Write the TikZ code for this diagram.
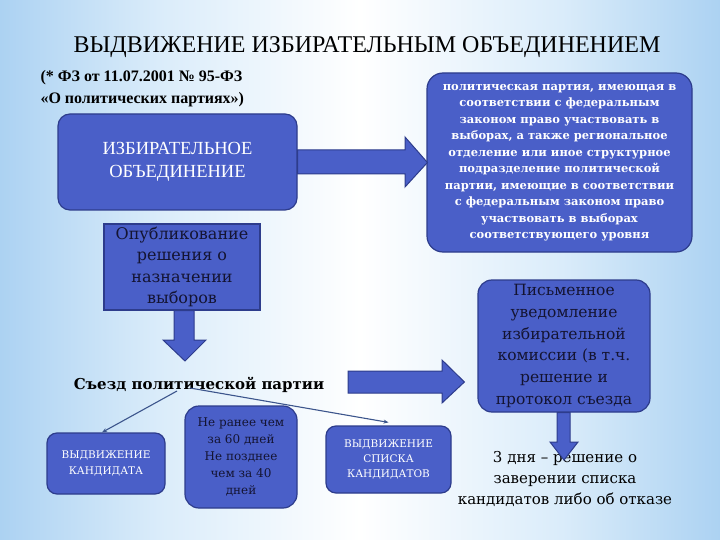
\documentclass[tikz,border=0pt]{standalone}
\usepackage{fontspec}
\setmainfont{Liberation Serif}
\newfontfamily\dserif{DejaVu Serif}
\usetikzlibrary{arrows.meta,calc}
\definecolor{boxblue}{RGB}{74,95,200}
\definecolor{boxline}{RGB}{45,60,140}
\definecolor{bgblue}{RGB}{172,210,242}
\definecolor{bgmid}{RGB}{218,236,250}
\definecolor{darktext}{RGB}{20,20,50}
\definecolor{linkcol}{RGB}{60,85,140}
\pgfdeclarehorizontalshading{bgshade}{100bp}{color(0bp)=(bgblue); color(25bp)=(bgblue); color(36bp)=(bgmid); color(50bp)=(white); color(64bp)=(bgmid); color(75bp)=(bgblue); color(100bp)=(bgblue)}
\begin{document}
\begin{tikzpicture}[x=1pt,y=-1pt,
  box/.style={draw=boxline, line width=1.2pt, fill=boxblue, align=center, inner sep=2pt},
  rbox/.style={box, rounded corners=12pt},
  blockarrow/.style={draw=boxline, line width=1pt, fill=boxblue, line join=miter},
  link/.style={draw=linkcol, line width=1.1pt, -{Stealth[length=5pt,width=4pt]}}]
\shade[shading=bgshade] (0,0) rectangle (720,540);
\useasboundingbox (0,0) rectangle (720,540);

\node[font=\fontsize{24}{28}\selectfont] (title) at (367,47) {ВЫДВИЖЕНИЕ ИЗБИРАТЕЛЬНЫМ ОБЪЕДИНЕНИЕМ};
\node[anchor=west, align=left, font=\bfseries\fontsize{16}{22}\selectfont] (law) at (37,89)
  {(* ФЗ от 11.07.2001 № 95-ФЗ\\«О политических партиях»)};

\node[rbox, minimum width=239pt, minimum height=96pt, text=white, font=\fontsize{18.5}{23}\selectfont] (izb) at (177.5,162)
  {ИЗБИРАТЕЛЬНОЕ\\ОБЪЕДИНЕНИЕ};

\node[rbox, rounded corners=16pt, minimum width=265pt, minimum height=179pt, text=white, font=\dserif\bfseries\fontsize{11.5}{16.5}\selectfont] (party) at (559.5,162.5)
  {политическая партия, имеющая в\\соответствии с федеральным\\законом право участвовать в\\выборах, а также региональное\\отделение или иное структурное\\подразделение политической\\партии, имеющие в соответствии\\с федеральным законом право\\участвовать в выборах\\соответствующего уровня};

\node[box, minimum width=156pt, minimum height=86pt, text=darktext, font=\dserif\fontsize{16}{21.5}\selectfont] (publ) at (182,267)
  {Опубликование\\решения о\\назначении\\выборов};

\node[font=\dserif\bfseries\fontsize{15}{18}\selectfont, text=black] (sjezd) at (199,385) {Съезд политической партии};

\node[rbox, rounded corners=14pt, minimum width=172pt, minimum height=132pt, text=darktext, font=\dserif\fontsize{15.5}{21.8}\selectfont] (pism) at (564,346)
  {Письменное\\уведомление\\избирательной\\комиссии (в т.ч.\\решение и\\протокол съезда};

\node[align=center, text=black, font=\dserif\fontsize{15}{21}\selectfont] (res) at (565,479)
  {3 дня – решение о\\заверении списка\\кандидатов либо об отказе};

\node[rbox, rounded corners=10pt, minimum width=118pt, minimum height=61pt, text=white, font=\dserif\fontsize{10.5}{16}\selectfont] (kand) at (106,463.5)
  {ВЫДВИЖЕНИЕ\\КАНДИДАТА};

\node[rbox, rounded corners=14pt, minimum width=112pt, minimum height=102pt, text=darktext, font=\dserif\fontsize{12}{17}\selectfont] (srok) at (241,457)
  {Не ранее чем\\за 60 дней\\Не позднее\\чем за 40\\дней};

\node[rbox, rounded corners=10pt, minimum width=125pt, minimum height=67pt, text=white, font=\dserif\fontsize{10.5}{15}\selectfont] (spis) at (388.5,459.5)
  {ВЫДВИЖЕНИЕ\\СПИСКА\\КАНДИДАТОВ};

% block arrows
\draw[blockarrow] ($(izb.east)+(0,-12)$) -- (405,150) -- (405,137) -- ($(party.west)+(1,0)$) -- (405,187) -- (405,174) -- ($(izb.east)+(0,12)$) -- cycle;
\draw[blockarrow] ($(publ.south)+(-8,0)$) -- (174,340) -- (163,340) -- (185,361) -- (206,340) -- (194,340) -- ($(publ.south)+(12,0)$) -- cycle;
\draw[blockarrow] (348,371) -- (442,371) -- (442,360) -- ($(pism.west)+(-13,36)$) -- (442,403) -- (442,393) -- (348,393) -- cycle;
\draw[blockarrow] ($(pism.south)+(-7,0)$) -- (557,442) -- (550,442) -- (564,460) -- (578,442) -- (570,442) -- ($(pism.south)+(6,0)$) -- cycle;

% thin links
\draw[link] ($(sjezd.center)+(-22,6)$) -- ($(kand.north)+(-4,0)$);
\draw[link] ($(sjezd.center)+(-9,3)$) -- ($(spis.north)+(0,-3)$);
\end{tikzpicture}
\end{document}
